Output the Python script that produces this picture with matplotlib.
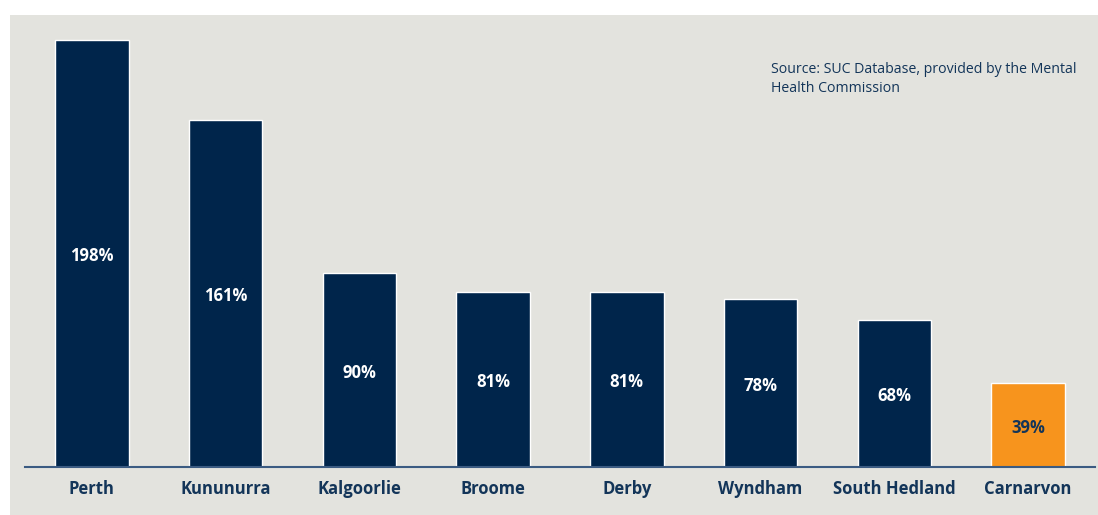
import matplotlib
matplotlib.use('Agg')
import matplotlib.pyplot as plt
from matplotlib.patches import Rectangle

towns = ["Perth", "Kununurra", "Kalgoorlie", "Broome", "Derby",
         "Wyndham", "South Hedland", "Carnarvon"]
values = [198, 161, 90, 81, 81, 78, 68, 39]
labels = ["198%", "161%", "90%", "81%", "81%", "78%", "68%", "39%"]
highlight = "Carnarvon"

NAVY = "#00254b"
ORANGE = "#f7941d"
TEXT = "#133559"
PANEL = "#e3e3de"

plt.rcParams['font.family'] = ['Open Sans', 'DejaVu Sans']

fig = plt.figure(figsize=(10.98, 5.15), dpi=100)
fig.patch.set_facecolor("white")
fig.patches.append(Rectangle((10 / 1098, 0), 1088 / 1098, 500 / 515,
                             transform=fig.transFigure, facecolor=PANEL,
                             edgecolor="none", zorder=-5))

ax = fig.add_axes([25 / 1098, 48 / 515, 1070 / 1098, 431.4 / 515])
ax.set_zorder(2)
ax.set_facecolor("none")

colors = [ORANGE if t == highlight else NAVY for t in towns]
x = range(len(towns))
bars = ax.bar(x, values, width=0.55, color=colors, edgecolor="white", linewidth=1)

for b, v, lab, t in zip(bars, values, labels, towns):
    c = TEXT if t == highlight else "white"
    ax.annotate(lab, (b.get_x() + b.get_width() / 2, v / 2), xytext=(0, -2),
                textcoords="offset points", ha="center", va="center",
                color=c, fontsize=12, fontweight="bold")

ax.set_xlim(-0.5, 7.5)
ax.set_ylim(0, 200)
ax.set_xticks(list(x))
ax.set_xticklabels(towns, fontsize=12, fontweight="bold", color=TEXT)
ax.tick_params(axis="x", length=0, pad=9)
ax.set_yticks([])
for s in ["top", "right", "left"]:
    ax.spines[s].set_visible(False)
ax.spines["bottom"].set_color("#3b5b82")
ax.spines["bottom"].set_linewidth(1.5)

fig.text(771 / 1098, 1 - 79 / 515, "Source: SUC Database, provided by the Mental\nHealth Commission",
         ha="left", va="center", fontsize=10.2, color=TEXT, linespacing=1.3, zorder=3)

fig.savefig("out.png", dpi=100)
